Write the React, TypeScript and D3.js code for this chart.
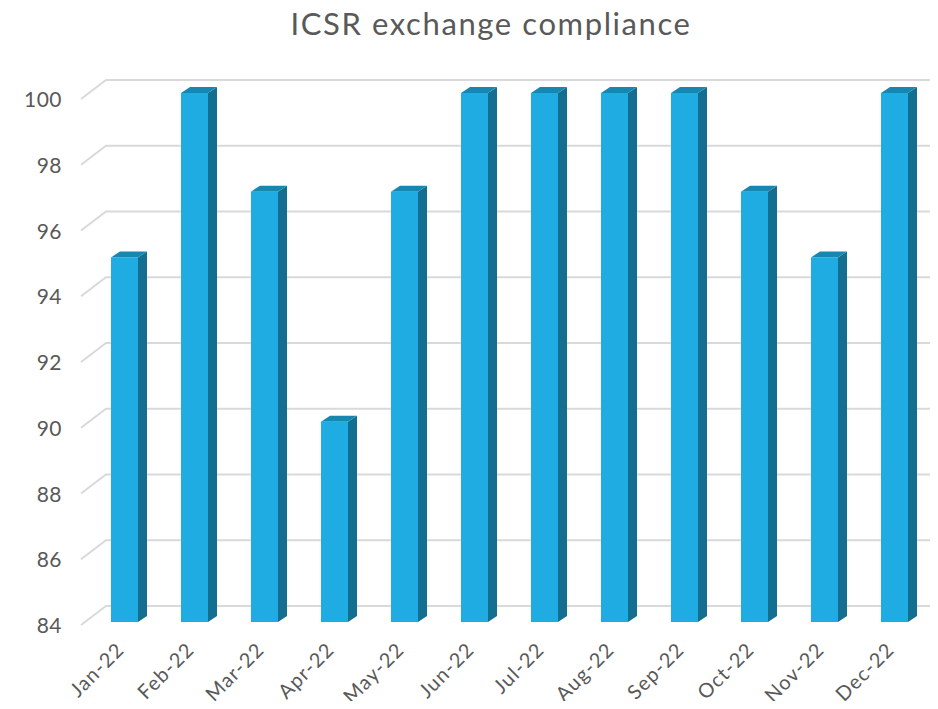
import * as d3 from "d3";
import { useEffect, useRef } from "react";

const months = ["Jan-22", "Feb-22", "Mar-22", "Apr-22", "May-22", "Jun-22", "Jul-22", "Aug-22", "Sep-22", "Oct-22", "Nov-22", "Dec-22"];
const compliance = [95, 100, 97, 90, 97, 100, 100, 100, 100, 97, 95, 100];
const yTicks = [84, 86, 88, 90, 92, 94, 96, 98, 100];

const W = 938;
const H = 709;
const FONT = "'Century Gothic', Lato, 'DejaVu Sans', sans-serif";

export default function App() {
  const ref = useRef<SVGSVGElement>(null);

  useEffect(() => {
    if (!ref.current) return;
    const svg = d3.select(ref.current);
    svg.selectAll("*").remove();

    // front-plane y scale; back wall is shifted up/right for the 3D look
    const y = d3.scaleLinear().domain([84, 100]).range([625, 99]);
    const x = d3.scaleBand().domain(months).range([89.5, 929.5]).paddingInner(0.614).paddingOuter(0.307);
    const depthX = 25, depthY = 19;
    const barDx = 9, barDy = 6, barLift = 3;

    // title
    svg.append("text")
      .attr("x", 491)
      .attr("y", 35)
      .attr("text-anchor", "middle")
      .attr("font-family", FONT)
      .attr("font-size", 31)
      .attr("letter-spacing", 1.6)
      .attr("fill", "#595959")
      .text("ICSR exchange compliance");

    // gridlines: diagonal floor edge + back wall line
    const grid = svg.append("g").attr("stroke", "#d9d9d9").attr("stroke-width", 2).attr("fill", "none");
    grid.selectAll("path")
      .data(yTicks)
      .enter()
      .append("path")
      .attr("d", d => `M81,${y(d)}L${81 + depthX},${y(d) - depthY}L${W},${y(d) - depthY}`);

    // y labels
    svg.append("g")
      .selectAll("text")
      .data(yTicks)
      .enter()
      .append("text")
      .attr("x", 62)
      .attr("y", d => y(d) + 8)
      .attr("text-anchor", "end")
      .attr("font-family", FONT)
      .attr("font-size", 21)
      .attr("letter-spacing", 0.5)
      .attr("fill", "#595959")
      .text(d => d);

    // bars
    const bw = x.bandwidth();
    const bars = svg.append("g")
      .selectAll("g")
      .data(months.map((m, i) => ({ m, v: compliance[i] })))
      .enter()
      .append("g");

    const base = y(84) - barLift;
    bars.append("path")
      .attr("fill", "#136e90")
      .attr("d", d => {
        const x0 = x(d.m)! + bw, top = y(d.v) - barLift * 2;
        return `M${x0},${top}L${x0 + barDx},${top - barDy}L${x0 + barDx},${base - barDy}L${x0},${base}Z`;
      });
    bars.append("path")
      .attr("fill", "#1786b0")
      .attr("d", d => {
        const x0 = x(d.m)!, top = y(d.v) - barLift * 2;
        return `M${x0},${top}L${x0 + barDx},${top - barDy}L${x0 + bw + barDx},${top - barDy}L${x0 + bw},${top}Z`;
      });
    bars.append("rect")
      .attr("x", d => x(d.m)!)
      .attr("y", d => y(d.v) - barLift * 2)
      .attr("width", bw)
      .attr("height", d => base - (y(d.v) - barLift * 2))
      .attr("fill", "#1eace3");

    // x labels
    svg.append("g")
      .selectAll("text")
      .data(months)
      .enter()
      .append("text")
      .attr("transform", d => `translate(${x(d)! + bw / 2 + 1},${651}) rotate(-45)`)
      .attr("text-anchor", "end")
      .attr("font-family", FONT)
      .attr("font-size", 20)
      .attr("letter-spacing", 1.2)
      .attr("fill", "#595959")
      .text(d => d);
  }, []);

  return <svg ref={ref} width={W} height={H} style={{ display: "block", margin: -8 }} />;
}
